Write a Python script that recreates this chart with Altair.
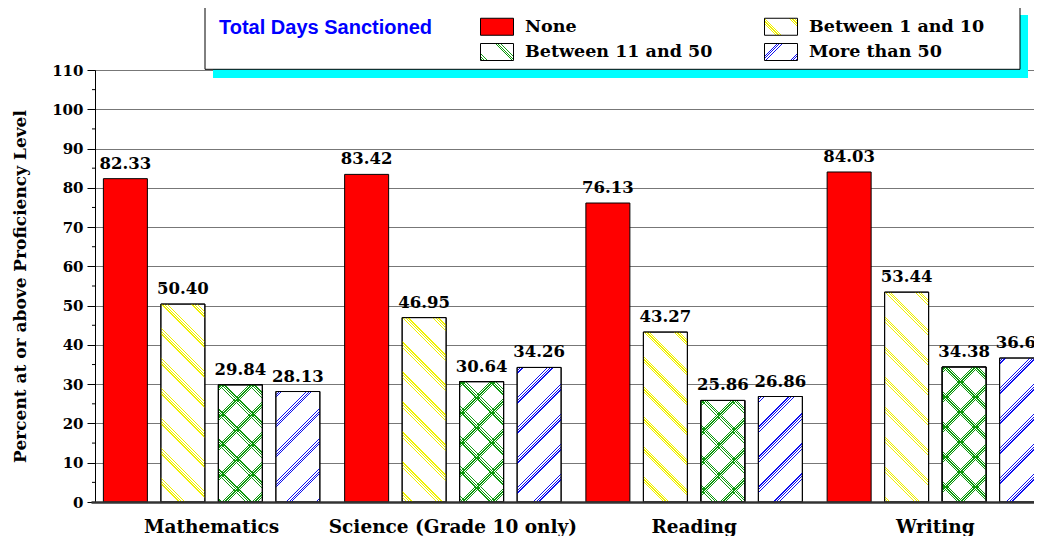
import altair as alt
import math

subjects = ["Mathematics", "Science (Grade 10 only)", "Reading", "Writing"]
series = ["None", "Between 1 and 10", "Between 11 and 50", "More than 50"]
values = {
    "Mathematics": [82.33, 50.40, 29.84, 28.13],
    "Science (Grade 10 only)": [83.42, 46.95, 30.64, 34.26],
    "Reading": [76.13, 43.27, 25.86, 26.86],
    "Writing": [84.03, 53.44, 34.38, 36.66],
}
y_ticks = list(range(0, 111, 10))
minor_ticks = list(range(5, 110, 10))
legend_order = ["None", "Between 11 and 50", "Between 1 and 10", "More than 50"]

# layout parameters (pixels)
PLOT_W, PLOT_H = 939, 432
X_RANGE = [-4, 961]
Y_MAX = 110
OFF_PI, OFF_PO = 0.23478, 0.21522

group_w = (X_RANGE[1] - X_RANGE[0]) / len(subjects)
step = group_w / (len(series) - OFF_PI + 2 * OFF_PO)
bar_w = step * (1 - OFF_PI)

TRANSP = "rgba(255,255,255,0)"
LINES = ((0.0, 1.3), (2.6, 3.9), (5.2, 6.5))
PERIOD = 30.0


def hatch(color, w, h, back, phase0=0.0):
    total = w + h
    k = total / (w * w + h * h)
    if back:
        pmin = -h
        g = {"gradient": "linear", "x1": 0, "y1": 1, "x2": k * w, "y2": 1 - k * h}
    else:
        pmin = 0.0
        g = {"gradient": "linear", "x1": 0, "y1": 0, "x2": k * w, "y2": k * h}
    pmax = pmin + total
    stops = [{"offset": 0, "color": TRANSP}]
    m0 = math.floor((pmin - phase0) / PERIOD) - 1
    m1 = math.ceil((pmax - phase0) / PERIOD) + 1
    for m in range(m0, m1):
        for a, b in LINES:
            pa, pb = phase0 + m * PERIOD + a, phase0 + m * PERIOD + b
            if pb <= pmin or pa >= pmax:
                continue
            oa = (max(pa, pmin) - pmin) / total
            ob = (min(pb, pmax) - pmin) / total
            stops += [{"offset": oa, "color": TRANSP}, {"offset": oa, "color": color},
                      {"offset": ob, "color": color}, {"offset": ob, "color": TRANSP}]
    stops.append({"offset": 1, "color": TRANSP})
    g["stops"] = stops
    return g


def as_expr(g, base="white"):
    # gradient object literal for a Vega expression; white background under stripes
    stops = []
    for s in g["stops"]:
        c = base if s["color"] == TRANSP else s["color"]
        stops.append("{offset:%.5f,color:'%s'}" % (s["offset"], c))
    return "{gradient:'linear',x1:%.5f,y1:%.5f,x2:%.5f,y2:%.5f,stops:[%s]}" % (
        g["x1"], g["y1"], g["x2"], g["y2"], ",".join(stops))


YELLOW, GREEN, BLUE = "#F0F000", "#109A10", "#1010F0"
hatch_style = {
    "Between 1 and 10": [(YELLOW, True)],
    "Between 11 and 50": [(GREEN, True), (GREEN, False)],
    "More than 50": [(BLUE, False)],
}

rows = []
hrows = []
for s in subjects:
    for i, ser in enumerate(series):
        v = values[s][i]
        rows.append({"subject": s, "series": ser, "value": v})
        h = v / Y_MAX * PLOT_H
        for col, back in hatch_style.get(ser, []):
            hrows.append({"subject": s, "series": ser, "value": v,
                          "grad": hatch(col, bar_w, h, back)})

SYM_W, SYM_H = 33, 17
legend_range = [
    "#FF0000",
    alt.ExprRef(expr=as_expr(hatch(GREEN, SYM_W, SYM_H, True, 14))),
    alt.ExprRef(expr=as_expr(hatch(YELLOW, SYM_W, SYM_H, True, 24))),
    alt.ExprRef(expr=as_expr(hatch(BLUE, SYM_W, SYM_H, False, 12))),
]

SERIF = "DejaVu Serif"

x_enc = alt.X("subject:N", sort=subjects,
              scale=alt.Scale(domain=subjects, range=X_RANGE, paddingInner=0,
                              paddingOuter=0, round=False),
              axis=alt.Axis(title=None, labelAngle=0, ticks=False, labelPadding=15,
                            labelFont=SERIF, labelFontSize=18.5, labelFontWeight="bold",
                            labelColor="black", labelLimit=400, domainColor="#333333",
                            domainWidth=2.5, zindex=1, grid=False))
xo_enc = alt.XOffset("series:N", sort=series,
                     scale=alt.Scale(domain=series, paddingInner=OFF_PI,
                                     paddingOuter=OFF_PO, round=False))
y_axis = alt.Axis(title="Percent at or above Proficiency Level", values=y_ticks,
                  labelOverlap=False,
                  labelFont=SERIF, labelFontSize=15, labelFontWeight="bold",
                  labelColor="black", labelPadding=4, tickSize=8,
                  tickColor="black", domainColor="black", gridColor="#777777",
                  titleFont=SERIF, titleFontSize=17, titleFontWeight="bold",
                  titleColor="black", titlePadding=22)
y_enc = alt.Y("value:Q", stack=None,
              scale=alt.Scale(domain=[0, Y_MAX], nice=False, zero=True),
              axis=y_axis)

main_data = alt.Data(values=rows)

shadow = alt.Chart(alt.Data(values=[{}])).mark_rect(color="#00FFFF").encode(
    x=alt.value(118), x2=alt.value(933), y=alt.value(-55), y2=alt.value(8))
box = alt.Chart(alt.Data(values=[{}])).mark_rect(
    fill="white", stroke="black", strokeWidth=1).encode(
    x=alt.value(110), x2=alt.value(925), y=alt.value(-63), y2=alt.value(-0.7))

minor = alt.Chart(alt.Data(values=[{"value": t} for t in minor_ticks])).mark_rule(
    color="black", strokeWidth=1).encode(
    x=alt.value(-3), x2=alt.value(0), y=y_enc)

base = alt.Chart(main_data).mark_bar(stroke="black", strokeWidth=1).encode(
    x=x_enc, xOffset=xo_enc, y=y_enc,
    fill=alt.condition(alt.datum.series == "None", alt.value("#FF0000"), alt.value("white")))

legend_layer = alt.Chart(main_data).mark_bar(strokeWidth=0).encode(
    x=x_enc, xOffset=xo_enc, y=y_enc, y2=alt.Y2("value:Q"),
    fill=alt.Fill("series:N", sort=legend_order,
                  scale=alt.Scale(domain=legend_order, range=legend_range),
                  legend=alt.Legend(
                      title="Total Days Sanctioned", orient="none", legendX=124,
                      legendY=-52.5, columns=2, titleOrient="left", titlePadding=47,
                      titleAnchor="start", titleLimit=400,
                      titleFont="Liberation Sans", titleFontSize=20, titleFontWeight="bold",
                      titleColor="#0000FF", titleBaseline="top",
                      labelFont=SERIF, labelFontSize=17.5, labelFontWeight="bold",
                      labelColor="black", labelOffset=27, labelLimit=400,
                      columnPadding=49, rowPadding=3.5, padding=0,
                      symbolType="M-1,-1H2.8824V1H-1Z", symbolSize=289,
                      symbolStrokeColor="black", symbolStrokeWidth=1, symbolOpacity=1)))

hatched = alt.Chart(alt.Data(values=hrows)).mark_bar(stroke="black", strokeWidth=1).encode(
    x=x_enc, xOffset=xo_enc, y=y_enc,
    fill=alt.Fill("grad:N", scale=None, legend=None))

labels = alt.Chart(main_data).mark_text(
    font=SERIF, fontSize=16.5, fontWeight="bold", color="black",
    baseline="alphabetic", dy=-10).encode(
    x=x_enc, xOffset=xo_enc, y=y_enc, text=alt.Text("value:Q", format=".2f"))

chart = alt.layer(shadow, box, minor, base, legend_layer, hatched, labels).properties(
    width=PLOT_W, height=PLOT_H,
    autosize=alt.AutoSizeParams(type="none"),
    padding={"left": 87, "top": 62, "right": 0, "bottom": 34},
).configure_view(stroke=None).configure(background="white")

chart.save("out.html", embed_options={"renderer": "svg", "actions": False})
